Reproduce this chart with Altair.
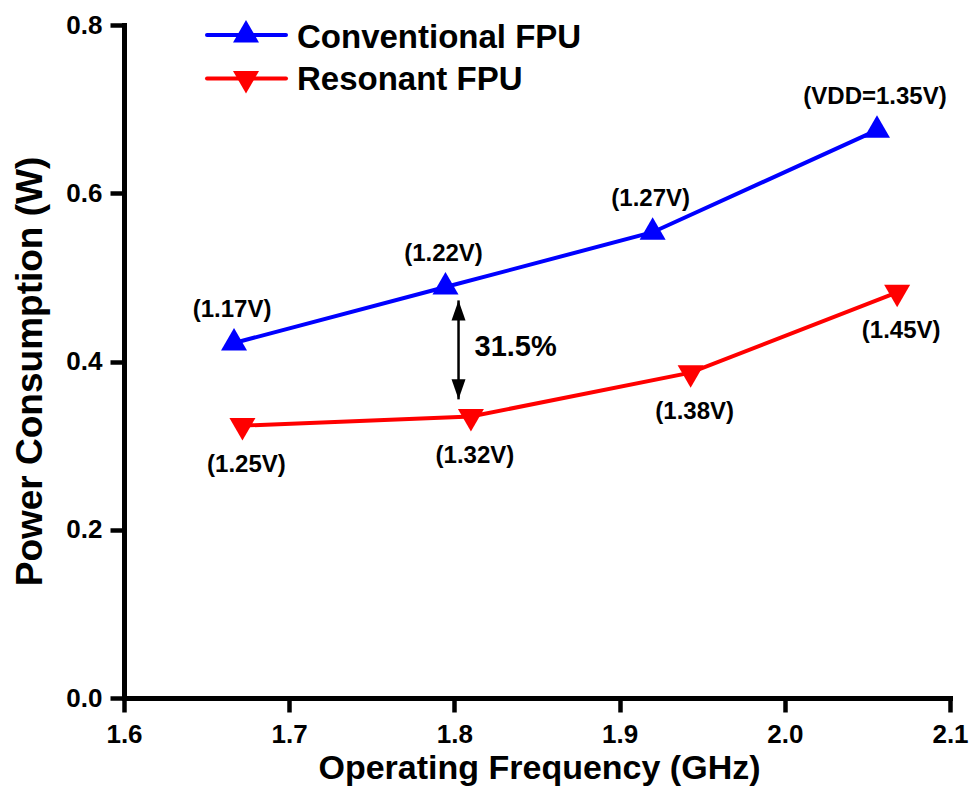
import altair as alt
import pandas as pd

# Conventional FPU: operating frequency (GHz), power (W), supply voltage label
conv_freq = [1.6666, 1.7946, 1.9200, 2.0558]
conv_power = [0.422, 0.4885, 0.5537, 0.675]
conv_vdd = ["(1.17V)", "(1.22V)", "(1.27V)", "(VDD=1.35V)"]

# Resonant FPU
res_freq = [1.6717, 1.8100, 1.9430, 2.0680]
res_power = [0.3238, 0.3346, 0.3867, 0.4823]
res_vdd = ["(1.25V)", "(1.32V)", "(1.38V)", "(1.45V)"]

series_names = ["Conventional FPU", "Resonant FPU"]
series_colors = ["#0000FF", "#FF0000"]

# Power saving annotation between the two curves near 1.8 GHz
gap_freq = [1.8025]
gap_top = [0.4726]
gap_bottom = [0.355]
gap_text = ["31.5%"]

x_ticks = [1.6, 1.7, 1.8, 1.9, 2.0, 2.1]
y_ticks = [0.0, 0.2, 0.4, 0.6, 0.8]

FONT = "Liberation Sans"

# Triangles centred on their centroid; arrowheads with the tip at the origin
TRI_UP = "M0,-1.155L-1,0.577L1,0.577Z"
TRI_DOWN = "M0,1.155L-1,-0.577L1,-0.577Z"
HEAD_UP = "M0,0L-0.7,2L0.7,2Z"
HEAD_DOWN = "M0,0L-0.7,-2L0.7,-2Z"

conv = pd.DataFrame({"freq": conv_freq, "power": conv_power, "vdd": conv_vdd})
res = pd.DataFrame({"freq": res_freq, "power": res_power, "vdd": res_vdd})
gap = pd.DataFrame({"freq": gap_freq, "top": gap_top, "bottom": gap_bottom,
                    "label": gap_text})
gap["mid"] = (gap["top"] + gap["bottom"]) / 2

x_scale = alt.Scale(domain=[1.6, 2.1], nice=False, zero=False)
y_scale = alt.Scale(domain=[0.0, 0.8], nice=False, zero=False)

axis_style = dict(
    grid=False,
    domainColor="black", domainWidth=5, domainCap="square",
    tickColor="black", tickWidth=4.5, tickSize=14,
    labelFont=FONT, labelFontSize=26, labelFontWeight="bold", labelColor="black",
    labelFlush=False,
    titleFont=FONT, titleFontWeight="bold", titleColor="black",
    titleAlign="center",
)

x_axis = alt.Axis(
    title="Operating Frequency (GHz)", values=x_ticks, format=".1f",
    labelPadding=9,
    titleX=415, titleY=80, titleBaseline="alphabetic", titleFontSize=34,
    **axis_style,
)
y_axis = alt.Axis(
    title="Power Consumption (W)", values=y_ticks, format=".1f",
    labelPadding=8,
    titleX=-94, titleY=346, titleBaseline="middle", titleFontSize=37,
    **axis_style,
)


def X(field):
    return alt.X(f"{field}:Q", scale=x_scale, axis=x_axis)


def Y(field):
    return alt.Y(f"{field}:Q", scale=y_scale, axis=y_axis)


def series_layers(df, color, shape, label_dx, label_dy):
    line = alt.Chart(df).mark_line(color=color, strokeWidth=4).encode(
        x=X("freq"), y=Y("power"), order="freq:Q")
    pts = alt.Chart(df).mark_point(
        shape=shape, filled=True, size=676, color=color, opacity=1, strokeWidth=0
    ).encode(x=X("freq"), y=Y("power"))
    labels = alt.Chart(df).mark_text(
        font=FONT, fontSize=24, fontWeight="bold", color="black",
        align="center", baseline="middle", dx=label_dx, dy=label_dy,
    ).encode(x=X("freq"), y=Y("power"), text="vdd:N")
    return [line, pts, labels]


layers = []
layers += series_layers(conv, series_colors[0], TRI_UP, -2, -33)
layers += series_layers(res, series_colors[1], TRI_DOWN, 4, 39)

# Double-headed arrow marking the power saving
shaft = alt.Chart(gap).mark_rule(color="black", strokeWidth=2.5).encode(
    x=X("freq"), y=Y("top"), y2="bottom:Q")
head_top = alt.Chart(gap).mark_point(
    shape=HEAD_UP, filled=True, size=400, color="black", opacity=1, strokeWidth=0
).encode(x=X("freq"), y=Y("top"))
head_bottom = alt.Chart(gap).mark_point(
    shape=HEAD_DOWN, filled=True, size=400, color="black", opacity=1, strokeWidth=0
).encode(x=X("freq"), y=Y("bottom"))
gap_label = alt.Chart(gap).mark_text(
    font=FONT, fontSize=29, fontWeight="bold", color="black",
    align="left", baseline="middle", dx=16, dy=-3,
).encode(x=X("freq"), y=Y("mid"), text="label:N")
layers += [shaft, head_top, head_bottom, gap_label]

# Legend drawn as line + marker + name
legend_rows = [(10, 23, TRI_UP), (53.5, 65, TRI_DOWN)]
for name, color, (ly, ty, shape) in zip(series_names, series_colors, legend_rows):
    entry = pd.DataFrame({"name": [name]})
    layers.append(alt.Chart(entry).mark_rule(color=color, strokeWidth=4, strokeCap="round").encode(
        x=alt.value(83), x2=alt.value(162), y=alt.value(ly)))
    layers.append(alt.Chart(entry).mark_point(
        shape=shape, filled=True, size=676, color=color, opacity=1, strokeWidth=0
    ).encode(x=alt.value(122), y=alt.value(ly)))
    layers.append(alt.Chart(entry).mark_text(
        font=FONT, fontSize=33, fontWeight="bold", color="black",
        align="left", baseline="alphabetic",
    ).encode(x=alt.value(173), y=alt.value(ty), text="name:N"))

chart = alt.layer(*layers).properties(
    width=826, height=673,
    autosize=alt.AutoSizeParams(type="none"),
    padding={"left": 124, "top": 25, "right": 24, "bottom": 112},
    background="white",
).configure_view(stroke=None).configure_axis(
    domainColor="black", domainWidth=5,
    tickColor="black", tickWidth=4.5, tickSize=14,
)

chart.save("out.html", embed_options={"renderer": "svg", "actions": False})
